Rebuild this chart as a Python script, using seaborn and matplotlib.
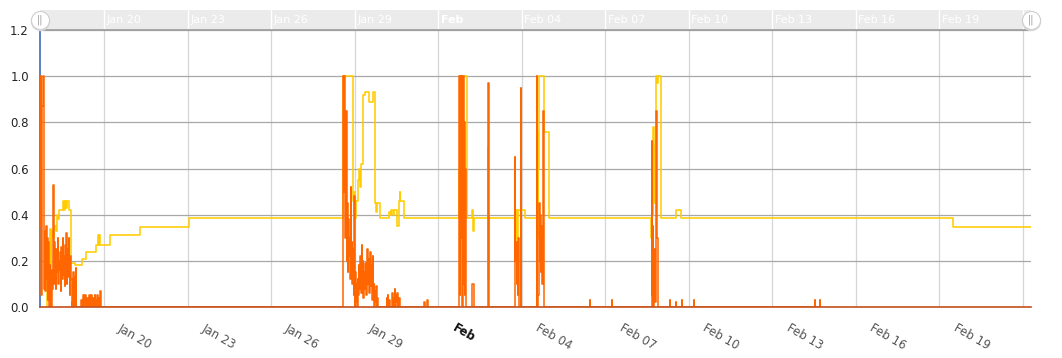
"""
Biểu đồ hai chuỗi dạng bậc thang (cam và vàng) theo thời gian, kèm thanh cuộn phía trên.
"""

import matplotlib
matplotlib.use("Agg")  # Backend không cần GUI
import matplotlib.dates as mdates
import matplotlib.pyplot as plt
import matplotlib.transforms as mtransforms
from matplotlib.ticker import FormatStrFormatter
import pandas as pd
import seaborn as sns

START = pd.Timestamp("2015-01-17")  # mốc 0 giờ
STEP_H = 0.5  # khoảng cách mẫu trong các cụm cam (giờ)

# --- Chuỗi cam: các cụm dày, giờ bắt đầu + giá trị mỗi 30 phút ---
orange_a_start = 17.0
orange_a = [0.35, 1.0, 0.05, 0.87, 1.0, 1.0, 0.42, 0.08,
            0.33, 0.07, 0.35, 0.12, 0.3, 0.03, 0.28, 0.0, 0.18, 0.04, 0.1, 0.0,
            0.16, 0.08, 0.53, 0.1, 0.28, 0.12, 0.22, 0.08, 0.25, 0.15, 0.3, 0.1,
            0.2, 0.16, 0.24, 0.07, 0.26, 0.18, 0.12, 0.3, 0.14, 0.22, 0.09, 0.27,
            0.16, 0.32, 0.1, 0.25, 0.13, 0.3, 0.2, 0.05, 0.22, 0.12,
            0.0, 0.02, 0.0, 0.15, 0.0, 0.13, 0.0, 0.17, 0.0]
orange_b_start = 52.0
orange_b = [0.0, 0.03, 0.0, 0.02, 0.05, 0.0, 0.03, 0.0, 0.05, 0.02, 0.0, 0.04,
            0.0, 0.03, 0.05, 0.0, 0.02, 0.0, 0.05, 0.03, 0.0, 0.04, 0.0, 0.02,
            0.05, 0.0, 0.03, 0.0, 0.05, 0.02, 0.0, 0.04, 0.0, 0.07, 0.0, 0.0]
orange_c_start = 277.5
orange_c = [0.0, 1.0, 0.5, 1.0, 0.9, 0.3, 0.85, 0.2, 0.45, 0.15,
            0.38, 0.22, 0.3, 0.12, 0.52, 0.2, 0.28, 0.1, 0.25, 0.05,
            0.48, 0.0, 0.15, 0.02, 0.1, 0.0, 0.12, 0.05, 0.18, 0.08,
            0.14, 0.22, 0.06, 0.27, 0.1, 0.2, 0.04, 0.15, 0.08, 0.19,
            0.12, 0.05, 0.17, 0.25, 0.1, 0.21, 0.06, 0.14, 0.24, 0.09,
            0.18, 0.03, 0.22, 0.08, 0.1, 0.0, 0.07, 0.02, 0.09, 0.0, 0.04, 0.0]
orange_d_start = 315.0
orange_d = [0.0, 0.04, 0.0, 0.05, 0.02, 0.0, 0.03, 0.0, 0.0, 0.0, 0.02, 0.06,
            0.0, 0.04, 0.0, 0.08, 0.0, 0.05, 0.02, 0.06, 0.0, 0.03, 0.0, 0.04, 0.0]
orange_e_start = 377.0
orange_e = [0.0, 0.6, 1.0, 0.05, 1.0, 0.3, 1.0, 0.0, 0.55, 1.0, 0.1, 0.8,
            0.05, 0.6, 0.0, 0.0]
orange_f_start = 389.5
orange_f = [0.1, 0.1, 0.1, 0.0]
orange_g_start = 402.5
orange_g = [0.8, 0.97, 0.1, 0.0]
orange_h_start = 426.0
orange_h = [0.65, 0.2, 0.28, 0.1, 0.22, 0.05, 0.3, 0.08, 0.0, 0.0, 0.95, 0.0]
orange_i_start = 445.0
orange_i = [1.0, 0.0, 0.05, 0.3, 0.45, 0.2, 0.4, 0.15, 0.35, 0.1, 0.3, 0.85, 0.45, 0.0]
orange_j_start = 544.0
orange_j = [0.72, 0.05, 0.35, 0.0, 0.25, 0.1, 0.02, 0.15, 0.85, 0.3, 0.0]

# Các vạch nhỏ đơn lẻ của chuỗi cam
pulse_hours = [348.0, 350.5, 490.8, 509.8, 559.8, 564.9, 570.1, 580.5, 684.7, 689.1]
pulse_values = [0.02, 0.03, 0.03, 0.03, 0.03, 0.02, 0.03, 0.03, 0.03, 0.03]
PULSE_W = 0.3

# --- Chuỗi vàng: các điểm đổi bậc (giờ, giá trị) ---
yellow_hours = [22.0, 22.5, 24.0, 24.5, 25.5, 26.0, 26.5, 28.0, 28.5, 30.5, 31.5, 32.5,
                33.0, 36.5, 37.5, 38.0, 39.0, 40.0, 41.5, 43.5, 47.0, 53.0, 56.5, 65.0,
                66.5, 67.5, 68.0, 68.5, 77.0, 103.0, 145.0,
                278.0, 286.8, 287.3, 287.8, 288.3, 289.0, 290.9, 291.5, 292.5, 293.5,
                295.5, 296.5, 300.4, 303.6, 305.6, 306.5, 307.5, 309.9, 317.9, 319.0,
                319.5, 321.0, 322.0, 324.2, 325.8, 326.7, 327.3, 330.8,
                377.5, 378.5, 379.0, 380.0, 380.5, 381.5, 384.5, 389.5, 390.0, 390.5,
                402.5, 403.0, 403.5, 404.0,
                426.0, 426.5, 427.0, 427.5, 428.0, 428.5, 431.0, 431.5, 434.8,
                444.8, 445.2, 445.7, 446.3, 447.1, 451.4, 455.7,
                543.8, 544.3, 544.8, 545.5, 546.2, 547.0, 548.0, 548.7, 549.2, 552.3,
                565.2, 569.5, 803.5, 871.0]
yellow_values = [0.0, 0.17, 0.13, 0.18, 0.34, 0.17, 0.33, 0.3, 0.35, 0.33, 0.4, 0.38,
                 0.42, 0.46, 0.42, 0.46, 0.43, 0.46, 0.42, 0.19, 0.18, 0.21, 0.24, 0.27,
                 0.31, 0.27, 0.31, 0.27, 0.31, 0.345, 0.385,
                 1.0, 0.46, 0.4, 0.5, 0.385, 0.46, 0.55, 0.6, 0.52, 0.62,
                 0.92, 0.93, 0.89, 0.93, 0.45, 0.41, 0.45, 0.385, 0.41, 0.4,
                 0.42, 0.4, 0.42, 0.35, 0.46, 0.5, 0.46, 0.385,
                 0.6, 0.95, 0.5, 1.0, 0.7, 1.0, 0.385, 0.42, 0.33, 0.385,
                 0.69, 0.12, 0.3, 0.385,
                 0.6, 0.25, 0.35, 0.42, 0.3, 0.42, 0.15, 0.42, 0.385,
                 0.2, 0.76, 0.3, 0.6, 1.0, 0.76, 0.385,
                 0.3, 0.65, 0.4, 0.78, 0.45, 0.7, 1.0, 0.97, 1.0, 0.385,
                 0.42, 0.385, 0.345, 0.345]

# --- Trục thời gian ---
tick_days = ["2015-01-20", "2015-01-23", "2015-01-26", "2015-01-29", "2015-02-01",
             "2015-02-04", "2015-02-07", "2015-02-10", "2015-02-13", "2015-02-16",
             "2015-02-19", "2015-02-22"]
tick_labels = ["Jan 20", "Jan 23", "Jan 26", "Jan 29", "Feb", "Feb 04", "Feb 07",
               "Feb 10", "Feb 13", "Feb 16", "Feb 19", ""]
bold_labels = ["Feb"]
view_hours = (16.8, 870.9)

ORANGE = "#ff6600"
YELLOW = "#ffcc00"


def to_time(hours):
    return START + pd.to_timedelta(hours, unit="h")


def build_orange() -> pd.DataFrame:
    hours, values = [], []
    clusters = [(orange_a_start, orange_a), (orange_b_start, orange_b),
                (orange_c_start, orange_c), (orange_d_start, orange_d),
                (orange_e_start, orange_e), (orange_f_start, orange_f),
                (orange_g_start, orange_g), (orange_h_start, orange_h),
                (orange_i_start, orange_i), (orange_j_start, orange_j)]
    for start, vals in clusters:
        hours += [start + i * STEP_H for i in range(len(vals))]
        values += vals
    for h, v in zip(pulse_hours, pulse_values):
        hours += [h, h + PULSE_W]
        values += [v, 0.0]
    df = pd.DataFrame({"h": hours, "value": values}).sort_values("h", kind="stable")
    df["time"] = to_time(df["h"])
    return df


def main() -> None:
    sns.set_theme(style="white")
    plt.rcParams["font.family"] = ["DejaVu Sans"]

    fig = plt.figure(figsize=(10.62, 3.58), dpi=100)
    ax = fig.add_axes([40 / 1062, 51 / 358, 991 / 1062, 277 / 358])

    df_y = pd.DataFrame({"time": to_time(pd.Series(yellow_hours)), "value": yellow_values})
    df_o = build_orange()

    sns.lineplot(data=df_y, x="time", y="value", ax=ax, color=YELLOW, lw=1.15,
                 drawstyle="steps-post", estimator=None, sort=False, zorder=3)
    sns.lineplot(data=df_o, x="time", y="value", ax=ax, color=ORANGE, lw=1.1,
                 drawstyle="steps-post", estimator=None, sort=False, zorder=4)

    x0, x1 = mdates.date2num(to_time(view_hours[0])), mdates.date2num(to_time(view_hours[1]))
    ticks = [mdates.date2num(pd.Timestamp(d)) for d in tick_days]
    ax.set_xlim(x0, x1)
    ax.set_ylim(0, 1.2)
    ax.set_xticks(ticks)
    ax.set_yticks([0.0, 0.2, 0.4, 0.6, 0.8, 1.0, 1.2])
    ax.yaxis.set_major_formatter(FormatStrFormatter("%.1f"))
    ax.set_xlabel("")
    ax.set_ylabel("")

    # Lưới và trục
    ax.yaxis.grid(True, color="#a8a8a8", lw=0.9)
    ax.xaxis.grid(True, color="#d6d6d6", lw=0.9)
    ax.set_axisbelow(True)
    for side in ("top", "right"):
        ax.spines[side].set_visible(False)
    ax.spines["left"].set_color("#3f6cb8")
    ax.spines["left"].set_linewidth(1.2)
    ax.spines["bottom"].set_color("#c4501c")
    ax.spines["bottom"].set_linewidth(1.2)
    ax.spines["bottom"].set_zorder(5)
    ax.tick_params(axis="x", length=5, width=1, color="#d0581c", labelbottom=False)
    ax.tick_params(axis="y", length=0, pad=8, labelsize=8.5, labelcolor="#222222")

    # Nhãn ngày xoay nghiêng
    trans = mtransforms.blended_transform_factory(ax.transData, ax.transAxes)
    shift = mtransforms.ScaledTranslation(0.15, -0.20, fig.dpi_scale_trans)
    for t, lab in zip(ticks, tick_labels):
        bold = lab in bold_labels
        ax.text(t, 0, lab, transform=trans + shift, rotation=-30, rotation_mode="anchor",
                ha="left", va="center", fontsize=8.5,
                color="#111111" if bold else "#555555",
                fontweight="bold" if bold else "normal")

    # --- Thanh cuộn phía trên ---
    nav = fig.add_axes([40 / 1062, 328 / 358, 991 / 1062, 20 / 358])
    nav.set_facecolor("#ebebeb")
    nav.set_xlim(x0, x1)
    nav.set_ylim(0, 1)
    nav.set_xticks([])
    nav.set_yticks([])
    for side in ("top", "left", "right"):
        nav.spines[side].set_visible(False)
    nav.spines["bottom"].set_color("#a0a0a0")
    nav.spines["bottom"].set_linewidth(1.3)
    for t in ticks:
        nav.axvline(t, color="white", lw=1)
    ntrans = mtransforms.blended_transform_factory(nav.transData, nav.transAxes)
    nshift = mtransforms.ScaledTranslation(0.025, 0, fig.dpi_scale_trans)
    for t, lab in zip(ticks, tick_labels):
        nav.text(t, 0.5, lab, transform=ntrans + nshift, ha="left", va="center",
                 fontsize=8, color="white",
                 fontweight="bold" if lab in bold_labels else "normal")
    nav.plot([x0, x1], [0.45, 0.45], "o", ms=14, mfc="#d9d9d9", mec="none",
             clip_on=False, zorder=5)
    nav.plot([x0, x1], [0.5, 0.5], "o", ms=13, mfc="white", mec="#cfcfcf",
             mew=0.8, clip_on=False, zorder=6)
    for xh in (x0, x1):
        nav.text(xh, 0.5, "||", ha="center", va="center", fontsize=7,
                 color="#999999", zorder=7, clip_on=False)

    plt.savefig("out.png", dpi=100)
    plt.close()


if __name__ == "__main__":
    main()
